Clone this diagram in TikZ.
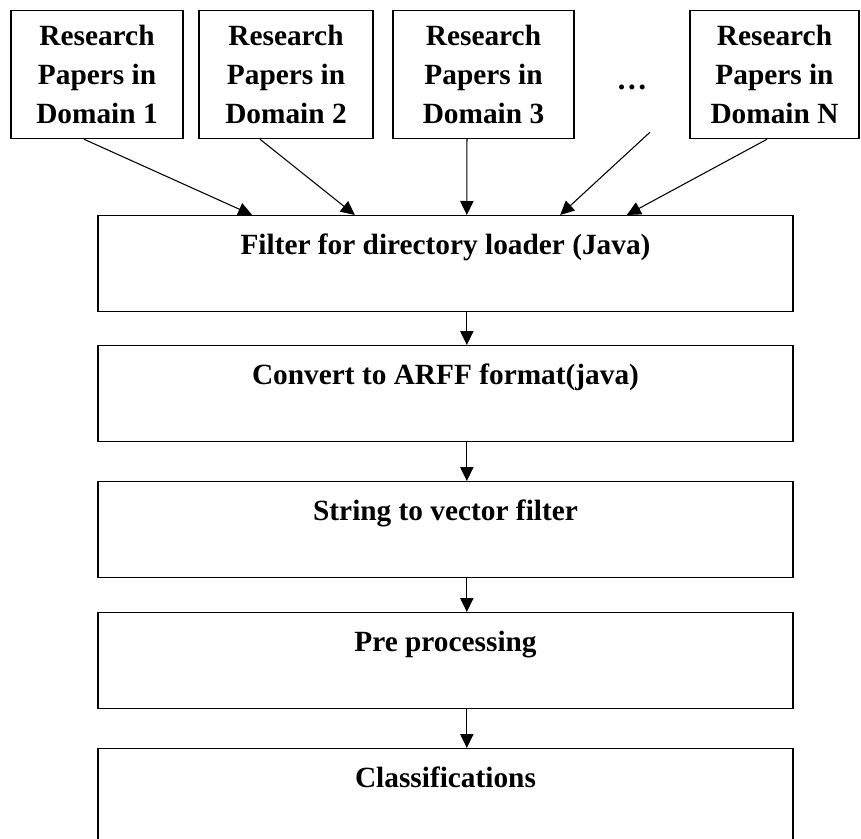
\documentclass[tikz,border=0pt]{standalone}
\usepackage{fontspec}
\setmainfont{Liberation Serif}
\usetikzlibrary{arrows.meta}
\tikzset{
  paper/.style={draw, line width=1.1pt, minimum height=96pt, align=center, inner sep=0pt,
    font=\fontsize{22}{29}\selectfont\bfseries},
  stage/.style={draw, line width=1.1pt, minimum width=521.25pt, inner sep=0pt, anchor=north,
    text height=29.25pt, text depth=42.4pt, font=\fontsize{22}{29}\selectfont\bfseries},
  flow/.style={-{Triangle[length=10.5pt,width=10pt]}, line width=0.8pt}
}
\begin{document}
\begin{tikzpicture}[x=0.75pt,y=-0.75pt]
\useasboundingbox (0,0) rectangle (861,839);
% input papers
\node[paper, minimum width=129pt] (p1) at (97,74.5) {Research\\Papers in\\Domain 1};
\node[paper, minimum width=130.5pt] (p2) at (286,74.5) {Research\\Papers in\\Domain 2};
\node[paper, minimum width=135.75pt] (p3) at (483.5,74.5) {Research\\Papers in\\Domain 3};
\node[font=\fontsize{23}{29}\selectfont\bfseries] (dots) at (632,87) {\dots};
\node[paper, minimum width=126.75pt] (pn) at (774.5,74.5) {Research\\Papers in\\Domain N};
% processing chain
\node[stage] (filter) at (445.5,215) {Filter for directory loader (Java)};
\node[stage] (arff) at (445.5,345) {Convert to ARFF format(java)};
\node[stage] (vector) at (445.5,481) {String to vector filter};
\node[stage] (prep) at (445.5,612) {Pre processing};
\node[stage] (classify) at (445.5,748) {Classifications};
\draw[flow] ([xshift=-9.75pt]p1.south) -- ([xshift=-145pt]filter.north);
\draw[flow] ([xshift=-19.5pt]p2.south) -- ([xshift=-68pt]filter.north);
\draw[flow] ([xshift=-12.4pt]p3.south) -- ([xshift=16pt]filter.north);
\draw[flow] ([xshift=13.5pt,yshift=-28.5pt]dots.south) -- ([xshift=86pt]filter.north);
\draw[flow] ([xshift=-5.6pt]pn.south) -- ([xshift=136pt]filter.north);
\foreach \a/\b in {filter/arff, arff/vector, vector/prep, prep/classify}
  \draw[flow] ([xshift=16pt]\a.south) -- ([xshift=16pt]\b.north);
\end{tikzpicture}
\end{document}
